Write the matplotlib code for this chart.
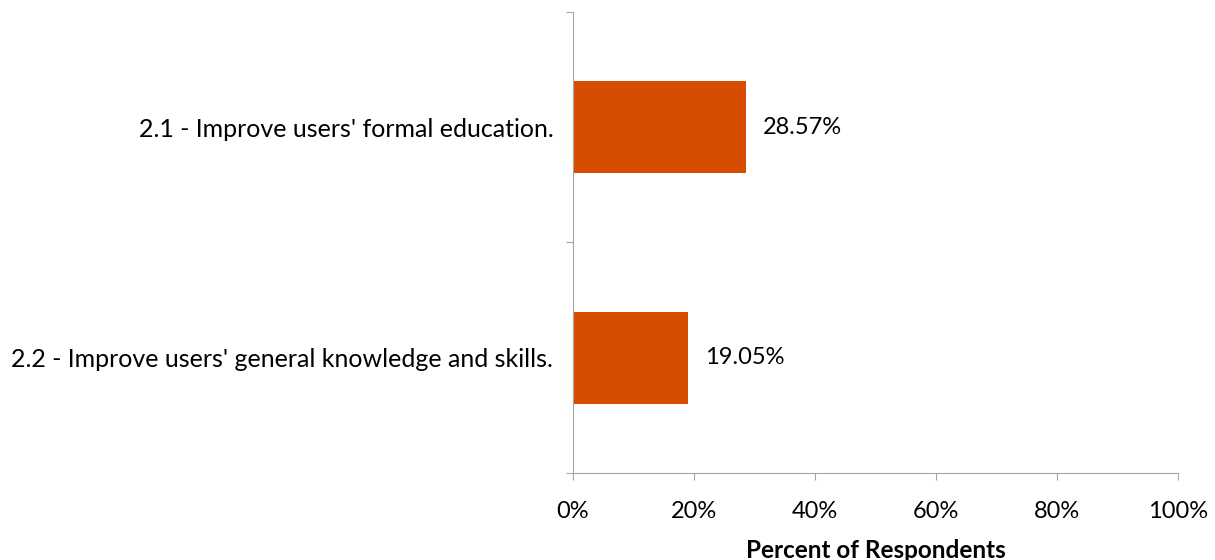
import matplotlib
matplotlib.use("Agg")
import matplotlib.pyplot as plt
from matplotlib.ticker import FuncFormatter

categories = [
    "2.1 - Improve users' formal education.",
    "2.2 - Improve users' general knowledge and skills.",
]
percents = [28.57, 19.05]
x_ticks = [0, 20, 40, 60, 80, 100]

plt.rcParams["font.family"] = ["Lato", "DejaVu Sans"]

fig = plt.figure(figsize=(12.15, 5.6), dpi=100)
ax = fig.add_axes([0.4714, 0.1554, 0.4982, 0.8232])

pos = list(range(len(categories)))
ax.barh(pos, percents, height=0.4, color="#d64d00")

for p, v in zip(pos, percents):
    ax.text(v + 2.8, p, f"{v:.2f}%", va="center", ha="left", fontsize=17)

ax.set_xlim(0, 100)
ax.set_ylim(len(categories) - 0.5, -0.5)

# boundary ticks on the y axis, category names as minor ticks
ax.set_yticks([i - 0.5 for i in range(len(categories) + 1)])
ax.set_yticklabels([])
ax.set_yticks(pos, categories, minor=True)
ax.tick_params(axis="y", which="minor", length=0, pad=14, labelsize=18)
ax.tick_params(axis="y", which="major", length=5, color="#a6a6a6")

ax.set_xticks(x_ticks)
ax.xaxis.set_major_formatter(FuncFormatter(lambda v, _: f"{v:.0f}%"))
ax.tick_params(axis="x", length=5, color="#a6a6a6", pad=15, labelsize=17)
ax.set_xlabel("Percent of Respondents", fontsize=17.5, fontweight="bold", labelpad=12.5)

for side in ("top", "right"):
    ax.spines[side].set_visible(False)
for side in ("left", "bottom"):
    ax.spines[side].set_color("#a6a6a6")

fig.savefig("out.png", dpi=100)
